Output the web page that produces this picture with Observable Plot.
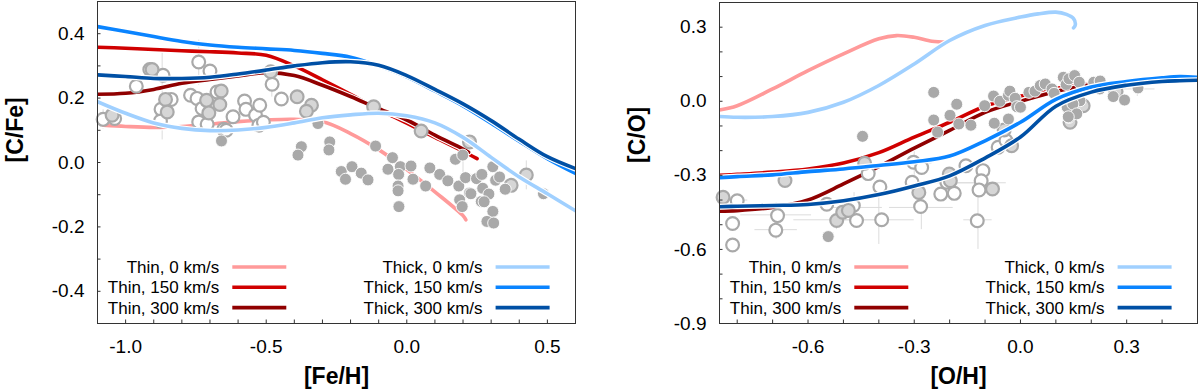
<!DOCTYPE html>
<html><head><meta charset="utf-8">
<script src="https://cdn.jsdelivr.net/npm/d3@7"></script>
<script src="https://cdn.jsdelivr.net/npm/@observablehq/plot@0.6"></script>
<style>
body{margin:0;background:#fff;}
#wrap{display:flex;width:1200px;height:389px;overflow:hidden;}
svg{font-family:"Liberation Sans",Arial,sans-serif;}
</style></head><body><div id="wrap"></div>
<script>
// ---------- legend / series ----------
const seriesNames = ["Thin, 0 km/s","Thin, 150 km/s","Thin, 300 km/s","Thick, 0 km/s","Thick, 150 km/s","Thick, 300 km/s"];
const seriesColors = ["#ff9a9a","#d00000","#900000","#a0d0ff","#0a84ff","#0050a5"];

// ---------- LEFT PANEL: [Fe/H] vs [C/Fe] ----------
const leftXMajor = [-1.0,-0.5,0.0,0.5];
const leftXMinor = [-1.0,-0.9,-0.8,-0.7,-0.6,-0.5,-0.4,-0.3,-0.2,-0.1,0.0,0.1,0.2,0.3,0.4,0.5];
const leftYMajor = [-0.4,-0.2,0.0,0.2,0.4];
const leftYMinor = [-0.4,-0.3,-0.2,-0.1,0.0,0.1,0.2,0.3,0.4];

const fehOpen = [-1.080,-1.039,-0.962,-0.914,-0.867,-0.874,-0.838,-0.876,-0.740,-0.700,-0.769,-0.746,-0.728,-0.740,-0.710,-0.675,-0.651,-0.642,-0.618,-0.577,-0.572,-0.538,-0.526,-0.523,-0.510,-0.479,-0.446];
const cfeOpen = [0.134,0.137,0.237,0.289,0.271,0.165,0.196,0.129,0.312,0.284,0.209,0.199,0.168,0.126,0.119,0.219,0.103,0.100,0.142,0.191,0.165,0.147,0.116,0.178,0.125,0.243,0.197];
const fehLight = [-1.048,-0.906,-0.858,-0.852,-0.712,-0.704,-0.660,-0.665,-0.484,-0.390,-0.339,-0.357,-0.118,0.051,0.223,0.371,0.425];
const cfeLight = [0.147,0.289,0.196,0.157,0.193,0.154,0.222,0.180,0.282,0.204,0.178,0.159,0.173,0.098,0.064,-0.071,-0.039];
const fehFilled = [-0.659,-0.316,-0.375,-0.387,-0.274,-0.277,-0.233,-0.195,-0.218,-0.162,-0.138,-0.111,-0.051,-0.067,-0.023,-0.029,-0.031,-0.028,-0.031,0.015,0.022,0.067,0.082,0.117,0.146,0.185,0.173,0.199,0.209,0.223,0.188,0.197,0.248,0.267,0.306,0.270,0.292,0.265,0.306,0.285,0.309,0.316,0.330,0.350,0.486,0.228,0.275];
const cfeFilled = [0.067,0.121,0.049,0.023,0.064,0.039,-0.028,-0.013,-0.052,-0.033,-0.054,0.051,0.015,-0.021,-0.013,-0.037,-0.073,-0.137,-0.088,-0.011,-0.052,-0.073,-0.017,-0.037,-0.057,-0.073,0.010,0.023,-0.047,-0.095,-0.116,-0.137,-0.050,-0.037,-0.013,-0.080,-0.098,-0.121,-0.152,-0.183,-0.188,-0.055,-0.045,-0.083,-0.097,-0.097,-0.122];
const fehErr = [-0.870,-0.740,-1.080,0.425,0.200,-0.480];
const cfeErr = [0.210,0.310,0.134,-0.040,-0.010,0.243];
const fehErrD = [0,0,0,0,0,0];
const cfeErrD = [0.140,0.070,0.030,0.045,0.040,0.040];

const fehThin0 = [-1.08,-1.0,-0.9,-0.8,-0.7,-0.6,-0.5,-0.4,-0.3,-0.2,-0.1,0.0,0.1,0.2,0.21];
const cfeThin0 = [0.116,0.112,0.109,0.112,0.119,0.127,0.132,0.134,0.127,0.090,0.040,-0.022,-0.091,-0.165,-0.178];
const fehThin150 = [-1.1,-1.0,-0.9,-0.8,-0.7,-0.6,-0.5,-0.4,-0.3,-0.2,-0.1,0.0,0.1,0.2,0.25];
const cfeThin150 = [0.358,0.355,0.351,0.347,0.344,0.340,0.333,0.300,0.257,0.212,0.165,0.122,0.078,0.035,0.012];
const fehThin300 = [-1.1,-1.0,-0.9,-0.8,-0.7,-0.6,-0.5,-0.4,-0.3,-0.2,-0.1,0.0,0.1,0.2,0.22];
const cfeThin300 = [0.212,0.215,0.227,0.246,0.258,0.269,0.279,0.270,0.240,0.205,0.167,0.132,0.085,0.042,0.032];
const fehThick = [-1.1,-1.0,-0.9,-0.8,-0.7,-0.6,-0.5,-0.4,-0.3,-0.2,-0.1,0.0,0.1,0.2,0.3,0.4,0.5,0.6];
const cfeThick0 = [0.189,0.153,0.123,0.106,0.099,0.101,0.109,0.123,0.139,0.148,0.153,0.145,0.123,0.078,0.016,-0.045,-0.097,-0.150];
const cfeThick150 = [0.422,0.407,0.391,0.376,0.365,0.358,0.353,0.348,0.339,0.327,0.300,0.266,0.222,0.176,0.122,0.066,0.012,-0.034];
const cfeThick300 = [0.272,0.267,0.261,0.261,0.265,0.275,0.287,0.300,0.310,0.313,0.302,0.270,0.227,0.182,0.130,0.072,0.018,-0.019];

// ---------- RIGHT PANEL: [O/H] vs [C/O] ----------
const rightXMajor = [-0.6,-0.3,0.0,0.3];
const rightXMinor = [-0.8,-0.7,-0.6,-0.5,-0.4,-0.3,-0.2,-0.1,0.0,0.1,0.2,0.3,0.4];
const rightYMajor = [-0.9,-0.6,-0.3,0.0,0.3];
const rightYMinor = [-0.8,-0.7,-0.6,-0.5,-0.4,-0.3,-0.2,-0.1,0.0,0.1,0.2,0.3];

const ohOpen = [-0.800,-0.813,-0.813,-0.686,-0.691,-0.547,-0.472,-0.463,-0.430,-0.397,-0.392,-0.302,-0.279,-0.306,-0.282,-0.225,-0.208,-0.187,-0.154,-0.122,-0.106,-0.111,-0.117,-0.063,-0.041];
const coOpen = [-0.403,-0.495,-0.582,-0.463,-0.522,-0.417,-0.422,-0.483,-0.293,-0.347,-0.480,-0.247,-0.268,-0.328,-0.426,-0.376,-0.328,-0.373,-0.261,-0.484,-0.281,-0.322,-0.359,-0.186,-0.159];
const ohLight = [-0.840,-0.665,-0.519,-0.502,-0.486,-0.440,-0.287,-0.201,-0.198,-0.079,-0.025,-0.046,0.177,0.140,0.270];
const coLight = [-0.389,-0.321,-0.483,-0.449,-0.442,-0.251,-0.369,-0.295,-0.322,-0.355,-0.180,-0.116,-0.018,-0.085,0.040];
const ohFilled = [-0.543,-0.446,-0.245,-0.245,-0.234,-0.199,-0.180,-0.174,-0.140,-0.101,-0.076,-0.074,-0.058,-0.034,-0.030,-0.034,-0.015,-0.010,0.000,0.024,0.041,0.056,0.070,0.089,0.095,0.121,0.129,0.137,0.153,0.166,0.168,0.126,0.132,0.148,0.137,0.159,0.135,0.207,0.225,0.224,0.262,0.294,0.332];
const coFilled = [-0.548,-0.142,0.036,-0.076,-0.125,-0.057,-0.012,-0.092,-0.097,-0.018,0.021,-0.089,0.000,0.024,0.041,-0.072,0.012,-0.022,-0.024,0.036,0.041,0.064,0.070,0.050,0.032,0.097,0.068,0.091,0.104,0.077,0.002,0.003,-0.024,-0.011,-0.065,-0.051,-0.063,0.077,0.082,0.050,0.019,0.005,0.054];
const ohErr = [-0.840,-0.690,-0.690,-0.520,-0.470,-0.400,-0.280,-0.210,-0.120,-0.120,-0.300,0.330];
const coErr = [-0.400,-0.460,-0.520,-0.480,-0.430,-0.480,-0.430,-0.330,-0.330,-0.480,-0.250,0.050];
const ohErrD = [0.070,0.100,0.060,0.120,0.080,0.100,0.090,0.100,0.080,0.040,0.050,0.050];
const coErrD = [0.030,0.050,0.040,0.040,0.060,0.100,0.090,0.060,0.060,0.120,0.050,0.030];

const ohThin0 = [-0.85,-0.8,-0.7,-0.6,-0.5,-0.4,-0.35,-0.3,-0.25,-0.21];
const coThin0 = [-0.035,-0.018,0.050,0.124,0.192,0.253,0.266,0.259,0.243,0.239];
const ohThin150 = [-0.85,-0.8,-0.7,-0.6,-0.5,-0.4,-0.3,-0.2,-0.1,0.0,0.1,0.2,0.22];
const coThin150 = [-0.300,-0.296,-0.287,-0.274,-0.250,-0.208,-0.145,-0.085,-0.020,0.020,0.052,0.072,0.074];
const ohThin300 = [-0.85,-0.8,-0.7,-0.6,-0.5,-0.4,-0.3,-0.2,-0.1,0.0,0.1,0.2,0.22];
const coThin300 = [-0.445,-0.443,-0.430,-0.400,-0.335,-0.265,-0.190,-0.118,-0.045,0.000,0.040,0.068,0.072];
const ohThick0 = [-0.85,-0.8,-0.7,-0.6,-0.5,-0.4,-0.3,-0.2,-0.1,0.0,0.05,0.1,0.13,0.15,0.155,0.15];
const coThick0 = [-0.062,-0.065,-0.062,-0.045,-0.004,0.064,0.151,0.246,0.307,0.341,0.354,0.361,0.352,0.335,0.310,0.297];
const ohThick = [-0.85,-0.8,-0.7,-0.6,-0.5,-0.4,-0.3,-0.2,-0.1,0.0,0.1,0.2,0.3,0.4,0.45,0.5];
const coThick150 = [-0.310,-0.305,-0.298,-0.285,-0.274,-0.260,-0.245,-0.222,-0.160,-0.085,0.008,0.058,0.080,0.095,0.100,0.097];
const coThick300 = [-0.427,-0.425,-0.422,-0.418,-0.403,-0.378,-0.343,-0.302,-0.230,-0.145,-0.020,0.037,0.065,0.080,0.083,0.085];

// ---------- helpers ----------
const zip = (X, Y) => X.map((x, i) => ({x, y: Y[i]}));
const fmt = d => d.toFixed(1);
const W = 600, H = 389, TICK = 3.5;

function panel(cfg) {
  const [mL, mR, mT, mB] = cfg.margin;
  const fw = W - mL - mR, fh = H - mT - mB;
  const [x0, x1] = cfg.xDomain, [y0, y1] = cfg.yDomain;
  const tx = (x1 - x0) * TICK / fw, ty = (y1 - y0) * TICK / fh; // tick length in data units
  const errs = cfg.errX.map((x, i) => ({x, y: cfg.errY[i], dx: cfg.errDX[i], dy: cfg.errDY[i]}));
  const lineMarks = i => [
    Plot.line(cfg.curves[i], {x: "x", y: "y", stroke: "white", strokeWidth: 6, curve: "catmull-rom", clip: true}),
    Plot.line(cfg.curves[i], {x: "x", y: "y", stroke: seriesColors[i], strokeWidth: 3.6, curve: "catmull-rom", clip: true})
  ];
  const marks = [
    Plot.ruleY(errs.filter(d => d.dx > 0), {y: "y", x1: d => d.x - d.dx, x2: d => d.x + d.dx, stroke: "#dcdcdc", strokeWidth: 1, clip: true}),
    Plot.ruleX(errs.filter(d => d.dy > 0), {x: "x", y1: d => d.y - d.dy, y2: d => d.y + d.dy, stroke: "#dcdcdc", strokeWidth: 1, clip: true}),
    ...lineMarks(0), ...lineMarks(1), ...lineMarks(2),
    Plot.dot(cfg.open, {x: "x", y: "y", r: 6.4, fill: "white", stroke: "#a9a9a9", strokeWidth: 2.2}),
    Plot.dot(cfg.light, {x: "x", y: "y", r: 6.4, fill: "#d6d6d6", stroke: "#a9a9a9", strokeWidth: 2.2}),
    Plot.dot(cfg.filled, {x: "x", y: "y", r: 6.0, fill: "#a9a9a9", stroke: "white", strokeWidth: 0.9}),
    ...lineMarks(3), ...lineMarks(4), ...lineMarks(5),
    Plot.frame({stroke: "#333", strokeWidth: 1}),
    Plot.ruleX(cfg.xMinor, {x: d => d, y1: y0, y2: y0 + ty, stroke: "#333", strokeWidth: 1}),
    Plot.ruleY(cfg.yMinor, {y: d => d, x1: x0, x2: x0 + tx, stroke: "#333", strokeWidth: 1}),
    Plot.axisX({ticks: cfg.xMajor, tickSize: 0, tickPadding: 16, fontSize: 19, tickFormat: fmt, label: null}),
    Plot.axisY({ticks: cfg.yMajor, tickSize: 0, tickPadding: 13, fontSize: 19, tickFormat: fmt, label: null}),
    Plot.text([cfg.xLabel], {text: d => d, frameAnchor: "bottom", dy: 53, lineAnchor: "middle", fontSize: 23, fontWeight: "bold"}),
    Plot.text([cfg.yLabel], {text: d => d, frameAnchor: "left", dx: -82, rotate: -90, lineAnchor: "middle", fontSize: 23, fontWeight: "bold"})
  ];
  const svg = Plot.plot({
    width: W, height: H,
    marginLeft: mL, marginRight: mR, marginTop: mT, marginBottom: mB,
    x: {domain: cfg.xDomain},
    y: {domain: cfg.yDomain},
    style: {fontFamily: "'Liberation Sans', Arial, sans-serif", color: "black", background: "white", overflow: "visible"},
    marks
  });
  // legend (inside frame, bottom)
  const g = d3.select(svg).append("g").attr("font-family", "'Liberation Sans', Arial, sans-serif").attr("font-size", 17);
  const frameBottom = H - mB;
  seriesNames.forEach((name, i) => {
    const col = Math.floor(i / 3), row = i % 3;
    const lx = mL + (col ? 385.6 : 122.3);
    const ly = frameBottom - 56 + row * 20.3;
    g.append("text").attr("x", lx).attr("y", ly).attr("dy", "0.35em").attr("text-anchor", "end").attr("fill", "black").text(name);
    g.append("line").attr("x1", lx + 13).attr("x2", lx + 67).attr("y1", ly).attr("y2", ly)
      .attr("stroke", seriesColors[i]).attr("stroke-width", 3.6);
  });
  return svg;
}

const left = panel({
  xDomain: [-1.1, 0.6], yDomain: [-0.5, 0.5], margin: [97, 25, 1, 66],
  xMajor: leftXMajor, xMinor: leftXMinor, yMajor: leftYMajor, yMinor: leftYMinor,
  xLabel: "[Fe/H]", yLabel: "[C/Fe]",
  open: zip(fehOpen, cfeOpen), light: zip(fehLight, cfeLight), filled: zip(fehFilled, cfeFilled),
  errX: fehErr, errY: cfeErr, errDX: fehErrD, errDY: cfeErrD,
  curves: [zip(fehThin0, cfeThin0), zip(fehThin150, cfeThin150), zip(fehThin300, cfeThin300),
           zip(fehThick, cfeThick0), zip(fehThick, cfeThick150), zip(fehThick, cfeThick300)]
});
const right = panel({
  xDomain: [-0.85, 0.5], yDomain: [-0.9, 0.4], margin: [119, 3, 2, 66],
  xMajor: rightXMajor, xMinor: rightXMinor, yMajor: rightYMajor, yMinor: rightYMinor,
  xLabel: "[O/H]", yLabel: "[C/O]",
  open: zip(ohOpen, coOpen), light: zip(ohLight, coLight), filled: zip(ohFilled, coFilled),
  errX: ohErr, errY: coErr, errDX: ohErrD, errDY: coErrD,
  curves: [zip(ohThin0, coThin0), zip(ohThin150, coThin150), zip(ohThin300, coThin300),
           zip(ohThick0, coThick0), zip(ohThick, coThick150), zip(ohThick, coThick300)]
});
document.getElementById("wrap").append(left, right);
</script></body></html>
